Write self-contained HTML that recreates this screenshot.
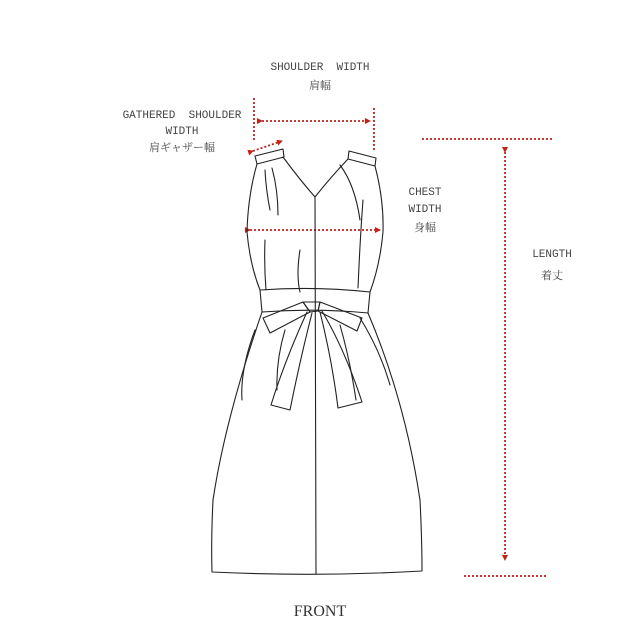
<!DOCTYPE html>
<html><head><meta charset="utf-8"><style>
body{margin:0;background:#fff;width:640px;height:640px;overflow:hidden}
svg{display:block}
text{font-family:"Liberation Mono","Noto Serif CJK SC",monospace;fill:#444;font-size:11px;white-space:pre}
.r{stroke:#c0231b;stroke-width:1.8;stroke-dasharray:2 2;fill:none}
.k{stroke:#222;stroke-width:1.1;fill:none;stroke-linecap:round;stroke-linejoin:round}
</style></head><body>
<svg width="640" height="640" viewBox="0 0 640 640">
<defs><marker id="a" markerWidth="6" markerHeight="6" refX="5" refY="3" orient="auto" markerUnits="userSpaceOnUse"><path d="M0,0L6,3L0,6z" fill="#c0231b"/></marker></defs>
<text x="320" y="70" text-anchor="middle">SHOULDER&#160;&#160;WIDTH</text>
<text x="320" y="89" text-anchor="middle" font-size="13">肩幅</text>
<text x="182" y="118" text-anchor="middle">GATHERED&#160;&#160;SHOULDER</text>
<text x="182" y="134" text-anchor="middle">WIDTH</text>
<text x="182" y="151" text-anchor="middle" font-size="13">肩ギャザー幅</text>
<text x="425" y="195" text-anchor="middle">CHEST</text>
<text x="425" y="212" text-anchor="middle">WIDTH</text>
<text x="425" y="231" text-anchor="middle" font-size="13">身幅</text>
<text x="552" y="257" text-anchor="middle" font-size="12">LENGTH</text>
<text x="552" y="279" text-anchor="middle" font-size="15">着丈</text>
<text x="320" y="616" text-anchor="middle" style="font-family:'Liberation Serif',serif;font-size:16px;fill:#333">FRONT</text>
<line class="r" x1="254" y1="98" x2="254" y2="142"/>
<line class="r" x1="374" y1="108" x2="374" y2="150"/>
<line class="r" x1="262" y1="121" x2="370" y2="121" marker-start="url(#a)" marker-end="url(#a)"/>
<line class="r" x1="253" y1="151" x2="282" y2="141" marker-start="url(#a)" marker-end="url(#a)"/>
<line class="r" x1="250" y1="230" x2="380" y2="230" marker-start="url(#a)" marker-end="url(#a)"/>
<line class="r" x1="422" y1="139" x2="552" y2="139"/>
<line class="r" x1="464" y1="576" x2="546" y2="576"/>
<line class="r" x1="505" y1="152" x2="505" y2="560" marker-start="url(#a)" marker-end="url(#a)"/>
<g class="k">
<path d="M255,156 L283,149 L284,157 L257,164 z"/>
<path d="M349,151 L376,158 L375,166 L348,159 z"/>
<path d="M257,164 Q248,195 247,232 Q250,265 260,290"/>
<path d="M375,166 Q384,200 383,232 Q380,265 370,292"/>
<path d="M283,157 Q300,180 315,197 Q330,178 348,159"/>
<path d="M315,197 L316,574"/>
<path d="M265,170 Q266,190 270,210 M272,168 Q278,190 278,215 M265,240 Q264,265 266,290 M300,250 Q296,275 300,292 M340,165 Q355,185 360,220 M363,200 Q360,240 358,288"/>
<path d="M260,290 Q315,286 370,292 L368,313 Q315,308 262,312 z"/>
<path d="M263,318 L303,302 L310,312 L270,333 z"/>
<path d="M320,302 L362,318 L357,331 L318,311 z"/>
<path d="M303,302 L320,302 L318,311 L310,312 z"/>
<path d="M307,312 Q285,360 271,405 L290,410 Q300,360 312,313"/>
<path d="M320,312 Q332,360 338,408 L362,402 Q345,350 322,311"/>
<path d="M262,312 Q225,420 213,500 Q211,540 212,572 Q316,577 422,571 Q422,540 420,500 Q405,400 368,313"/>
<path d="M255,330 Q240,370 242,400 M285,330 Q276,360 277,390 M340,325 Q350,360 356,400 M360,318 Q380,350 390,385"/>
</g>
</svg>
</body></html>
